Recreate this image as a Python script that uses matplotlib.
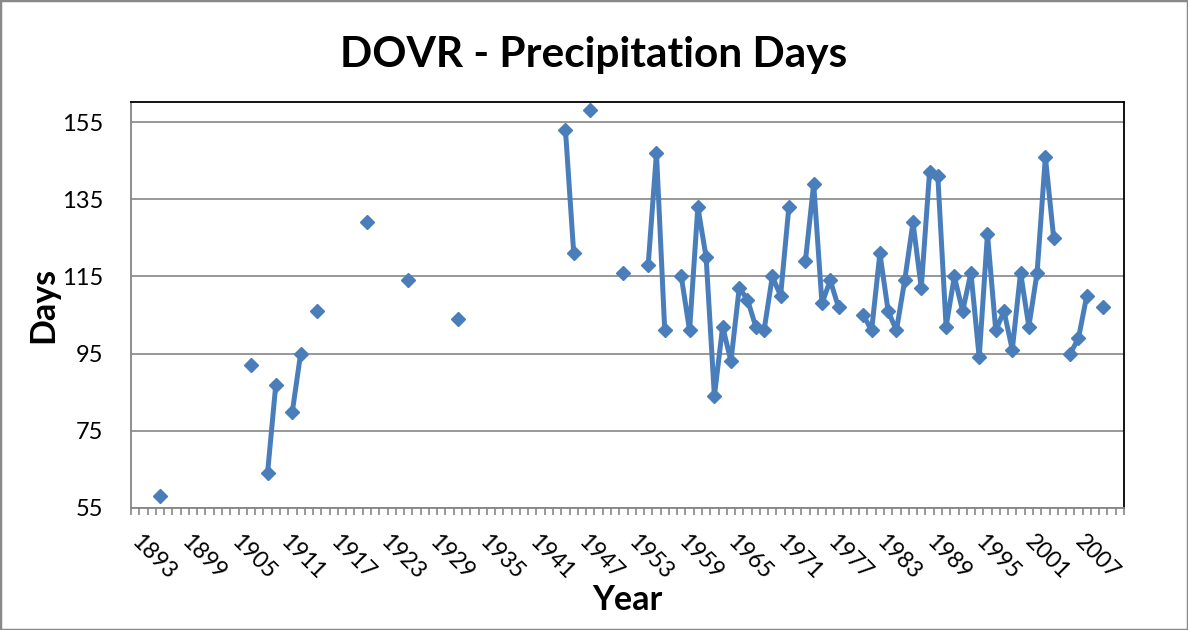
import numpy as np
import matplotlib.pyplot as plt
from matplotlib.patches import Rectangle

# Category axis: one slot per year
first_year = 1893
n_years = 120
years = np.arange(first_year, first_year + n_years)

# Observed precipitation days (years with no record are left out)
obs_years = [1896, 1907, 1909, 1910, 1912, 1913, 1915, 1921, 1926, 1932,
             1945, 1946, 1948, 1952, 1955, 1956, 1957, 1959, 1960, 1961,
             1962, 1963, 1964, 1965, 1966, 1967, 1968, 1969, 1970, 1971,
             1972, 1974, 1975, 1976, 1977, 1978, 1981, 1982, 1983, 1984,
             1985, 1986, 1987, 1988, 1989, 1990, 1991, 1992, 1993, 1994,
             1995, 1996, 1997, 1998, 1999, 2000, 2001, 2002, 2003, 2004,
             2006, 2007, 2008, 2010]
obs_days = [58, 92, 64, 87, 80, 95, 106, 129, 114, 104,
            153, 121, 158, 116, 118, 147, 101, 115, 101, 133,
            120, 84, 102, 93, 112, 109, 102, 101, 115, 110,
            133, 119, 139, 108, 114, 107, 105, 101, 121, 106,
            101, 114, 129, 112, 142, 141, 102, 115, 106, 116,
            94, 126, 101, 106, 96, 116, 102, 116, 146, 125,
            95, 99, 110, 107]

# fill the full year range, gaps stay NaN so the line breaks there
days = np.full(n_years, np.nan)
for yr, d in zip(obs_years, obs_days):
    days[yr - first_year] = d

y_ticks = [55, 75, 95, 115, 135, 155]
label_step = 6

plt.rcParams['font.family'] = ['Lato', 'DejaVu Sans']

fig = plt.figure(figsize=(11.88, 6.3), dpi=100)
ax = fig.add_axes([131 / 1188, 1 - 508 / 630, (1124 - 131) / 1188, (508 - 102) / 630])

x = np.arange(n_years)
ax.plot(x, days, color='#4A7EBB', linewidth=3.6, marker='D', markersize=7,
        markerfacecolor='#4A7EBB', markeredgecolor='#4A7EBB', zorder=3)

ax.set_xlim(-0.5, n_years - 0.5)
ax.set_ylim(55, 160.2)

grid_col = '#868686'
ax.set_yticks(y_ticks)
ax.yaxis.grid(True, color=grid_col, linewidth=1.2)
ax.set_axisbelow(True)
ax.tick_params(axis='y', length=0, pad=20, labelsize=17)

ax.set_xticks(x[::label_step])
ax.set_xticklabels([str(y) for y in years[::label_step]], rotation=-45,
                   ha='left', va='center', rotation_mode='anchor', fontsize=16.5)
ax.set_xticks(np.arange(n_years + 1) - 0.5, minor=True)
ax.tick_params(axis='x', which='major', length=0, pad=22)
ax.tick_params(axis='x', which='minor', length=5, width=1.2, color=grid_col, direction='out')

for side in ['left', 'bottom']:
    ax.spines[side].set_color(grid_col)
    ax.spines[side].set_linewidth(1.3)
for side in ['top', 'right']:
    ax.spines[side].set_color('black')
    ax.spines[side].set_linewidth(1.3)

ax.set_xlabel('Year', fontsize=24.5, fontweight='bold', labelpad=0)
ax.set_ylabel('Days', fontsize=24.5, fontweight='bold', labelpad=2)
fig.text(0.5, 0.912, 'DOVR - Precipitation Days', ha='center', va='center',
         fontsize=30.5, fontweight='bold')

fig.patches.append(Rectangle((0, 0), 1, 1, transform=fig.transFigure, fill=False,
                             edgecolor='#898989', linewidth=2.5))

fig.savefig('out.png', dpi=100)
